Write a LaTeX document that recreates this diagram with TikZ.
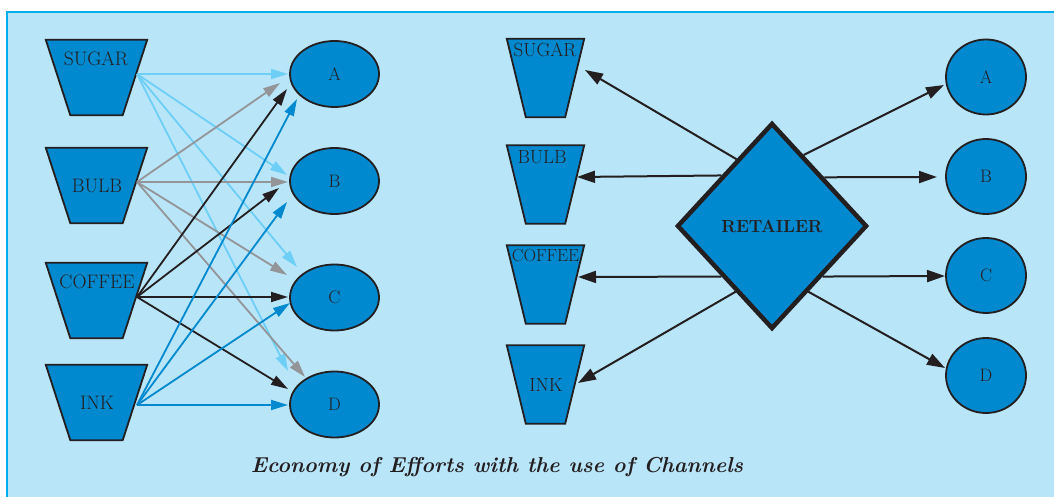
\documentclass[tikz,border=0pt]{standalone}
\usetikzlibrary{shapes.geometric,arrows.meta}
\definecolor{bgblue}{HTML}{B9E5F9}
\definecolor{framecol}{HTML}{00AEEF}
\definecolor{nodefill}{HTML}{0089CF}
\definecolor{inkcol}{HTML}{231F20}
\definecolor{lblue}{HTML}{6DCFF6}
\definecolor{lgray}{HTML}{939598}
\definecolor{mblue}{HTML}{0089CF}
\newcommand\drawcup[2]{%
  \draw[cupline] (#1.north west) -- (#1.north east) -- ([xshift=-#2]#1.south east)
    -- ([xshift=#2]#1.south west) -- cycle;}
\begin{document}
\begin{tikzpicture}[x=1pt,y=-1pt,
  cupL/.style={rectangle, inner sep=0pt, minimum width=101pt, minimum height=75pt},
  cupR/.style={rectangle, inner sep=0pt, minimum width=77pt, minimum height=78pt},
  cupline/.style={draw=inkcol, line width=1.8pt, fill=nodefill, line join=miter},
  ovalL/.style={ellipse, draw=inkcol, line width=1.8pt, fill=nodefill, inner sep=0pt,
    minimum width=89pt, minimum height=66pt, font=\fontsize{18}{18}\selectfont, text=inkcol},
  ovalR/.style={ellipse, draw=inkcol, line width=1.8pt, fill=nodefill, inner sep=0pt,
    minimum width=80pt, minimum height=75pt, font=\fontsize{18}{18}\selectfont, text=inkcol},
  lab/.style={inner sep=0pt, text=inkcol, font=\fontsize{19.5}{19.5}\selectfont},
  labR/.style={inner sep=0pt, text=inkcol, font=\fontsize{19}{19}\selectfont},
  retail/.style={diamond, draw=inkcol, line width=4.5pt, fill=nodefill, inner sep=0pt,
    minimum width=190pt, minimum height=206pt, text=inkcol,
    font=\fontsize{17.5}{17.5}\selectfont\bfseries},
  arr/.style={line width=1.8pt, -{Triangle[length=17pt,width=10pt]}},
  sug/.style={arr, draw=lblue, fill=lblue},
  bul/.style={arr, draw=lgray, fill=lgray},
  cof/.style={arr, draw=inkcol, fill=inkcol},
  inkarr/.style={arr, draw=mblue, fill=mblue},
  rarr/.style={line width=2pt, draw=inkcol, fill=inkcol, -{Triangle[length=18pt,width=12pt]}}
]
\useasboundingbox (0,0) rectangle (1054,497);
\fill[bgblue] (7,12) rectangle (1054,497);
\draw[framecol, line width=2.4pt] (7,497) -- (7,12) -- (1054,12);

% left products
\node[cupL] (lS) at (96.5,77.5) {};
\node[cupL] (lB) at (96.5,185.5) {};
\node[cupL] (lC) at (96.5,300.5) {};
\node[cupL] (lI) at (96.5,402.5) {};
\drawcup{lS}{24.5pt}
\drawcup{lB}{24.5pt}
\drawcup{lC}{24.5pt}
\drawcup{lI}{24.5pt}
\node[lab] (tlS) at (96,59) {SUGAR};
\node[lab] (tlB) at (97,186) {BULB};
\node[lab] (tlC) at (97,282) {COFFEE};
\node[lab] (tlI) at (97,403) {INK};

% left customers
\node[ovalL] (A) at (334.5,74) {A};
\node[ovalL] (B) at (334.5,181) {B};
\node[ovalL] (C) at (334.5,297.5) {C};
\node[ovalL] (D) at (334.5,404.5) {D};

\coordinate (sS) at ([shift={(40.5,-3.5)}]lS.center);
\coordinate (sB) at ([shift={(40.5,-3.5)}]lB.center);
\coordinate (sC) at ([shift={(40.5,-3.5)}]lC.center);
\coordinate (sI) at ([shift={(40.5,2.5)}]lI.center);

\draw[sug] (sS) -- ([shift={(-46.5,0)}]A.center);
\draw[sug] (sS) -- ([shift={(-47.5,-6)}]B.center);
\draw[sug] (sS) -- ([shift={(-37.5,-30.5)}]C.center);
\draw[sug] (sS) -- ([shift={(-46.5,-33.5)}]D.center);

\draw[bul] (sB) -- ([shift={(-54.5,9)}]A.center);
\draw[bul] (sB) -- ([shift={(-46.5,1)}]B.center);
\draw[bul] (sB) -- ([shift={(-47.5,-22.5)}]C.center);
\draw[bul] (sB) -- ([shift={(-29.5,-27.5)}]D.center);

\draw[cof] (sC) -- ([shift={(-47.5,15)}]A.center);
\draw[cof] (sC) -- ([shift={(-55.5,7)}]B.center);
\draw[cof] (sC) -- ([shift={(-46.5,-0.5)}]C.center);
\draw[cof] (sC) -- ([shift={(-46.5,-15.5)}]D.center);

\draw[inkarr] (sI) -- ([shift={(-37.5,25)}]A.center);
\draw[inkarr] (sI) -- ([shift={(-47.5,21)}]B.center);
\draw[inkarr] (sI) -- ([shift={(-44.5,5.5)}]C.center);
\draw[inkarr] (sI) -- ([shift={(-46.5,0.5)}]D.center);

% right products
\node[cupR] (rS) at (545.5,78) {};
\node[cupR] (rB) at (545.5,184.5) {};
\node[cupR] (rC) at (545.5,284.5) {};
\node[cupR] (rI) at (545.5,384.5) {};
\drawcup{rS}{19pt}
\drawcup{rB}{19pt}
\drawcup{rC}{19pt}
\drawcup{rI}{19pt}
\node[labR] (trS) at (545,50) {SUGAR};
\node[labR] (trB) at (542,157) {BULB};
\node[labR, font=\fontsize{17.5}{17.5}\selectfont] (trC) at (545.5,256) {COFFEE};
\node[labR] (trI) at (546,385) {INK};

% retailer
\node[retail] (R) at (772,226) {RETAILER};

% right customers
\node[ovalR] (RA) at (986,77) {A};
\node[ovalR] (RB) at (986,176.5) {B};
\node[ovalR] (RC) at (986,275.5) {C};
\node[ovalR] (RD) at (986,375.5) {D};

\draw[rarr] (R.118.7) -- ([shift={(39.5,-8)}]rS.center);
\draw[rarr] (R.135) -- ([shift={(31.5,-7.5)}]rB.center);
\draw[rarr] (R.225) -- ([shift={(32.5,-7.5)}]rC.center);
\draw[rarr] (R.241.4) -- ([shift={(32.5,-1.5)}]rI.center);

\draw[rarr] (R.66.4) -- ([shift={(-42,8)}]RA.center);
\draw[rarr] (R.43.9) -- ([shift={(-49,0.5)}]RB.center);
\draw[rarr] (R.-45) -- ([shift={(-41,0.5)}]RC.center);
\draw[rarr] (R.-61.4) -- ([shift={(-41,-7.5)}]RD.center);

% caption
\node[inner sep=0pt, text=inkcol, font=\fontsize{21.6}{21.6}\selectfont\bfseries\itshape] (cap) at (497,467)
  {Economy of Efforts with the use of Channels};
\end{tikzpicture}
\end{document}
